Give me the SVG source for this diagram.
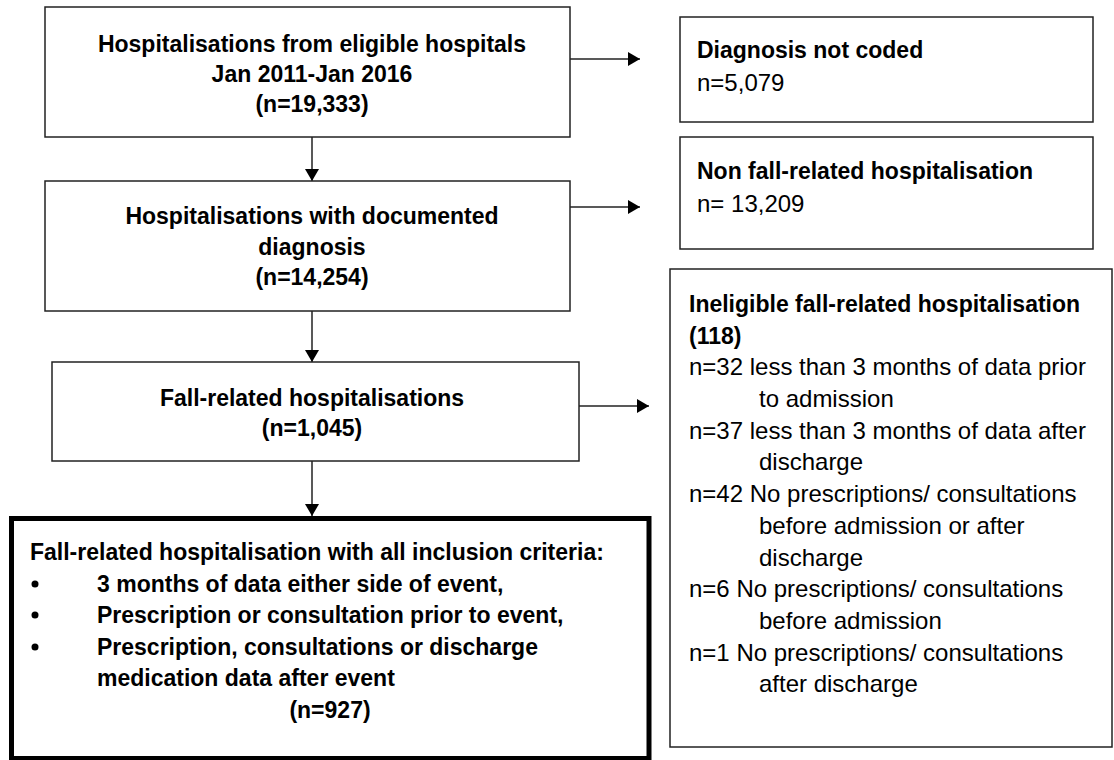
<svg xmlns="http://www.w3.org/2000/svg" width="1114" height="760" viewBox="0 0 1114 760">
  <defs>
    <marker id="ah" viewBox="0 0 12 14" refX="12" refY="7" markerWidth="12" markerHeight="14" markerUnits="userSpaceOnUse" orient="auto">
      <path d="M0,0 L12,7 L0,14 Z" fill="#000"/>
    </marker>
  </defs>
  <style>
    text { font-family: "Liberation Sans", Arial, sans-serif; fill: #000; }
    .b { font-weight: bold; font-size: 23px; }
    .r { font-size: 24px; }
    .c { text-anchor: middle; }
    .box { fill: #fff; stroke: #222; stroke-width: 1.5; }
    .thick { fill: #fff; stroke: #000; stroke-width: 5; }
    .conn { stroke: #222; stroke-width: 1.5; fill: none; marker-end: url(#ah); }
  </style>
  <rect width="1114" height="760" fill="#fff"/>

  <g id="connectors">
    <line class="conn" x1="312" y1="137" x2="312" y2="181"/>
    <line class="conn" x1="312" y1="311" x2="312" y2="362"/>
    <line class="conn" x1="312" y1="461" x2="312" y2="516"/>
    <line class="conn" x1="570" y1="59" x2="640" y2="59"/>
    <line class="conn" x1="570" y1="207" x2="640" y2="207"/>
    <line class="conn" x1="579" y1="406" x2="649" y2="406"/>
  </g>

  <g id="n1">
    <rect class="box" x="45" y="7" width="525" height="130"/>
    <text class="b c" x="312" y="52">Hospitalisations from eligible hospitals</text>
    <text class="b c" x="312" y="82">Jan 2011-Jan 2016</text>
    <text class="b c" x="312" y="112">(n=19,333)</text>
  </g>

  <g id="n2">
    <rect class="box" x="45" y="181" width="525" height="130"/>
    <text class="b c" x="312" y="224">Hospitalisations with documented</text>
    <text class="b c" x="312" y="255">diagnosis</text>
    <text class="b c" x="312" y="285">(n=14,254)</text>
  </g>

  <g id="n3">
    <rect class="box" x="52" y="362" width="527" height="99"/>
    <text class="b c" x="312" y="406">Fall-related hospitalisations</text>
    <text class="b c" x="312" y="436">(n=1,045)</text>
  </g>

  <g id="n4">
    <rect class="thick" x="11.5" y="518.5" width="637.5" height="240"/>
    <text class="b" x="30" y="560">Fall-related hospitalisation with all inclusion criteria:</text>
    <circle cx="35" cy="584" r="3.5"/>
    <text class="b" x="97" y="592">3 months of data either side of event,</text>
    <circle cx="35" cy="615" r="3.5"/>
    <text class="b" x="97" y="623">Prescription or consultation prior to event,</text>
    <circle cx="35" cy="647" r="3.5"/>
    <text class="b" x="97" y="655">Prescription, consultations or discharge</text>
    <text class="b" x="97" y="686">medication data after event</text>
    <text class="b c" x="330" y="718">(n=927)</text>
  </g>

  <g id="n5">
    <rect class="box" x="680" y="17" width="413" height="105"/>
    <text class="b" x="697" y="58">Diagnosis not coded</text>
    <text class="r" x="697" y="91">n=5,079</text>
  </g>

  <g id="n6">
    <rect class="box" x="680" y="137" width="413" height="112"/>
    <text class="b" x="697" y="179">Non fall-related hospitalisation</text>
    <text class="r" x="697" y="212">n= 13,209</text>
  </g>

  <g id="n7">
    <rect class="box" x="670" y="269" width="442" height="478"/>
    <text class="b" x="689" y="312">Ineligible fall-related hospitalisation</text>
    <text class="b" x="689" y="344">(118)</text>
    <text class="r" x="689" y="375">n=32 less than 3 months of data prior</text>
    <text class="r" x="759" y="407">to admission</text>
    <text class="r" x="689" y="439">n=37 less than 3 months of data after</text>
    <text class="r" x="759" y="470">discharge</text>
    <text class="r" x="689" y="502">n=42 No prescriptions/ consultations</text>
    <text class="r" x="759" y="534">before admission or after</text>
    <text class="r" x="759" y="566">discharge</text>
    <text class="r" x="689" y="597">n=6 No prescriptions/ consultations</text>
    <text class="r" x="759" y="629">before admission</text>
    <text class="r" x="689" y="661">n=1 No prescriptions/ consultations</text>
    <text class="r" x="759" y="692">after discharge</text>
  </g>
</svg>
